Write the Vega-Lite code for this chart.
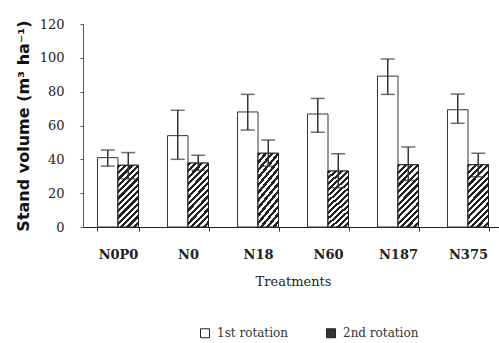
{
  "$schema": "https://vega.github.io/schema/vega-lite/v6.json",
  "autosize": "none",
  "padding": {"left": 83, "top": 24, "right": 0, "bottom": 116},
  "width": 420,
  "height": 203,
  "background": "white",
  "config": {
    "view": {"stroke": null},
    "axisY": {
      "grid": false,
      "labelOverlap": false,
      "labelFont": "DejaVu Serif", "labelFontSize": 13, "labelColor": "#222",
      "labelPadding": 16,
      "tickSize": 3, "tickColor": "#555",
      "domainColor": "#555",
      "titleFont": "DejaVu Sans", "titleFontSize": 16, "titleFontWeight": "bold", "titleColor": "#111",
      "titlePadding": 8
    }
  },
  "data": {"values": [
    {"treatment": "N0P0", "rotation": "1st rotation", "volume": 41, "lo": 36, "hi": 45.5},
    {"treatment": "N0P0", "rotation": "2nd rotation", "volume": 36.5, "lo": 28.5, "hi": 44},
    {"treatment": "N0", "rotation": "1st rotation", "volume": 54, "lo": 40, "hi": 69},
    {"treatment": "N0", "rotation": "2nd rotation", "volume": 37.8, "lo": 33.5, "hi": 42.4},
    {"treatment": "N18", "rotation": "1st rotation", "volume": 68, "lo": 57.3, "hi": 78.4},
    {"treatment": "N18", "rotation": "2nd rotation", "volume": 43.6, "lo": 36, "hi": 51.4},
    {"treatment": "N60", "rotation": "1st rotation", "volume": 66.8, "lo": 56, "hi": 76},
    {"treatment": "N60", "rotation": "2nd rotation", "volume": 33.1, "lo": 23.2, "hi": 43.3},
    {"treatment": "N187", "rotation": "1st rotation", "volume": 89.2, "lo": 78.4, "hi": 99.3},
    {"treatment": "N187", "rotation": "2nd rotation", "volume": 36.8, "lo": 27.5, "hi": 47.3},
    {"treatment": "N375", "rotation": "1st rotation", "volume": 69.3, "lo": 61.3, "hi": 78.6},
    {"treatment": "N375", "rotation": "2nd rotation", "volume": 36.8, "lo": 29.7, "hi": 43.6}
  ]},
  "encoding": {
    "x": {
      "field": "treatment", "type": "nominal",
      "sort": ["N0P0", "N0", "N18", "N60", "N187", "N375"],
      "scale": {"paddingInner": 0.414, "paddingOuter": 0.207},
      "axis": {
        "title": "Treatments",
        "labelAngle": 0,
        "labelFont": "DejaVu Serif", "labelFontSize": 13, "labelFontWeight": "bold", "labelColor": "#222",
        "labelPadding": 17,
        "tickBand": "extent", "tickSize": 4, "tickColor": "#333",
        "domainColor": "#222", "domainWidth": 1.2,
        "titleFont": "DejaVu Serif", "titleFontSize": 13, "titleFontWeight": "normal", "titleColor": "#222",
        "titlePadding": 14
      }
    },
    "xOffset": {
      "field": "rotation", "type": "nominal",
      "scale": {"domain": ["1st rotation", "2nd rotation"], "paddingInner": 0, "paddingOuter": 0}
    }
  },
  "layer": [
    {
      "mark": {"type": "bar", "stroke": "#333", "strokeWidth": 1},
      "encoding": {
        "y": {
          "field": "volume", "type": "quantitative",
          "scale": {"domain": [0, 120], "nice": false},
          "axis": {"title": "Stand volume (m³ ha⁻¹)", "values": [0, 20, 40, 60, 80, 100, 120]}
        },
        "fill": {
          "field": "rotation", "type": "nominal",
          "scale": {"domain": ["1st rotation", "2nd rotation"], "range": ["#ffffff", "#333333"]},
          "legend": {
            "title": null,
            "orient": "none",
            "direction": "horizontal",
            "legendX": 116,
            "legendY": 303,
            "symbolType": "square",
            "symbolSize": 81,
            "symbolStrokeColor": "#222",
            "symbolStrokeWidth": 1,
            "labelFont": "DejaVu Serif", "labelFontSize": 12, "labelColor": "#333",
            "labelOffset": 6,
            "columnPadding": 36
          }
        }
      }
    },
    {
      "transform": [{"filter": "datum.rotation === '2nd rotation'"}],
      "mark": {
        "type": "bar", "stroke": "#222", "strokeWidth": 1,
        "fill": {
          "gradient": "linear", "x1": 0, "y1": 0, "x2": 0.4, "y2": 1.2,
          "stops": [
            {"offset": 0, "color": "#222"}, {"offset": 0.03846, "color": "#222"}, {"offset": 0.03846, "color": "#fff"}, {"offset": 0.07692, "color": "#fff"},
            {"offset": 0.07692, "color": "#222"}, {"offset": 0.11538, "color": "#222"}, {"offset": 0.11538, "color": "#fff"}, {"offset": 0.15385, "color": "#fff"},
            {"offset": 0.15385, "color": "#222"}, {"offset": 0.19231, "color": "#222"}, {"offset": 0.19231, "color": "#fff"}, {"offset": 0.23077, "color": "#fff"},
            {"offset": 0.23077, "color": "#222"}, {"offset": 0.26923, "color": "#222"}, {"offset": 0.26923, "color": "#fff"}, {"offset": 0.30769, "color": "#fff"},
            {"offset": 0.30769, "color": "#222"}, {"offset": 0.34615, "color": "#222"}, {"offset": 0.34615, "color": "#fff"}, {"offset": 0.38462, "color": "#fff"},
            {"offset": 0.38462, "color": "#222"}, {"offset": 0.42308, "color": "#222"}, {"offset": 0.42308, "color": "#fff"}, {"offset": 0.46154, "color": "#fff"},
            {"offset": 0.46154, "color": "#222"}, {"offset": 0.5, "color": "#222"}, {"offset": 0.5, "color": "#fff"}, {"offset": 0.53846, "color": "#fff"},
            {"offset": 0.53846, "color": "#222"}, {"offset": 0.57692, "color": "#222"}, {"offset": 0.57692, "color": "#fff"}, {"offset": 0.61538, "color": "#fff"},
            {"offset": 0.61538, "color": "#222"}, {"offset": 0.65385, "color": "#222"}, {"offset": 0.65385, "color": "#fff"}, {"offset": 0.69231, "color": "#fff"},
            {"offset": 0.69231, "color": "#222"}, {"offset": 0.73077, "color": "#222"}, {"offset": 0.73077, "color": "#fff"}, {"offset": 0.76923, "color": "#fff"},
            {"offset": 0.76923, "color": "#222"}, {"offset": 0.80769, "color": "#222"}, {"offset": 0.80769, "color": "#fff"}, {"offset": 0.84615, "color": "#fff"},
            {"offset": 0.84615, "color": "#222"}, {"offset": 0.88462, "color": "#222"}, {"offset": 0.88462, "color": "#fff"}, {"offset": 0.92308, "color": "#fff"},
            {"offset": 0.92308, "color": "#222"}, {"offset": 0.96154, "color": "#222"}, {"offset": 0.96154, "color": "#fff"}, {"offset": 1, "color": "#fff"}
          ]
        }
      },
      "encoding": {
        "y": {"field": "volume", "type": "quantitative", "axis": {"title": "Stand volume (m³ ha⁻¹)", "values": [0, 20, 40, 60, 80, 100, 120]}}
      }
    },
    {
      "mark": {"type": "rule", "color": "#333", "strokeWidth": 1.5},
      "encoding": {
        "y": {"field": "lo", "type": "quantitative", "axis": {"title": "Stand volume (m³ ha⁻¹)", "values": [0, 20, 40, 60, 80, 100, 120]}},
        "y2": {"field": "hi"}
      }
    },
    {
      "mark": {"type": "tick", "color": "#333", "thickness": 1.5, "size": 14, "orient": "horizontal"},
      "encoding": {
        "y": {"field": "hi", "type": "quantitative", "axis": {"title": "Stand volume (m³ ha⁻¹)", "values": [0, 20, 40, 60, 80, 100, 120]}}
      }
    },
    {
      "mark": {"type": "tick", "color": "#333", "thickness": 1.5, "size": 14, "orient": "horizontal"},
      "encoding": {
        "y": {"field": "lo", "type": "quantitative", "axis": {"title": "Stand volume (m³ ha⁻¹)", "values": [0, 20, 40, 60, 80, 100, 120]}}
      }
    }
  ]
}
